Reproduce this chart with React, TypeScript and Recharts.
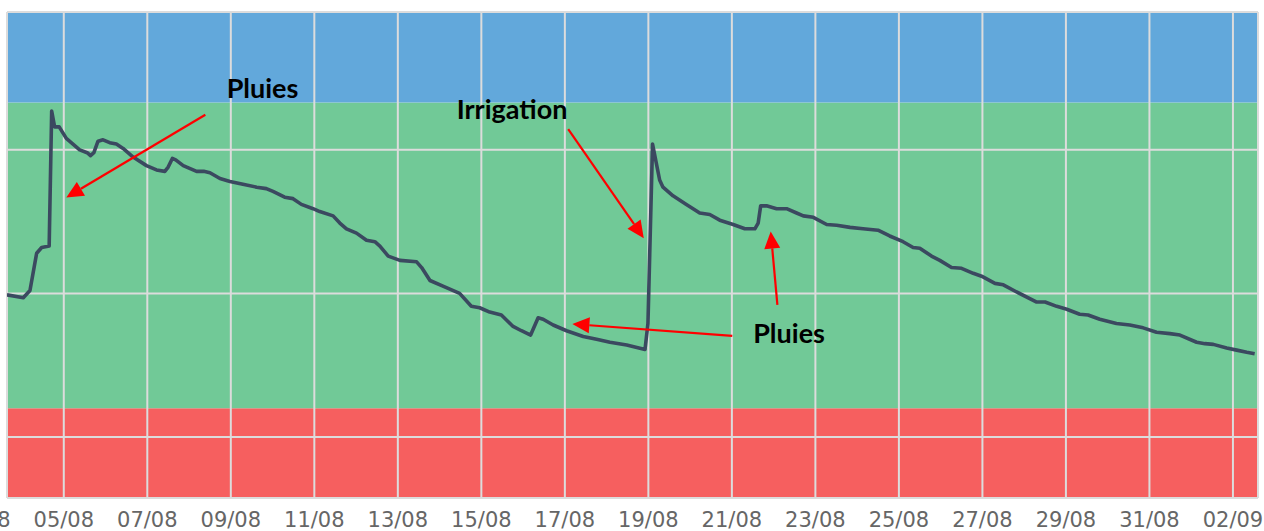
import { CartesianGrid, Line, LineChart, ReferenceArea, ReferenceDot, ReferenceLine, XAxis, YAxis } from "recharts";

// time in days of August (32 = 01/09)
const days = [
  3.64, 4.03, 4.19, 4.35, 4.47, 4.65, 4.71, 4.78, 4.89, 5.06, 5.38, 5.56, 5.64, 5.72, 5.82, 5.94,
  6.1, 6.26, 6.42, 6.66, 6.98, 7.22, 7.42, 7.5, 7.6, 7.68, 7.86, 8.18, 8.35, 8.5, 8.74, 8.98,
  9.29, 9.62, 9.85, 10.01, 10.29, 10.49, 10.69, 10.97, 11.13, 11.45, 11.61, 11.77, 12.01, 12.25,
  12.45, 12.57, 12.77, 13.05, 13.45, 13.57, 13.77, 14.08, 14.48, 14.76, 14.96, 15.2, 15.48, 15.76,
  15.96, 16.18, 16.36, 16.48, 16.72, 17.04, 17.44, 17.76, 18.08, 18.48, 18.92, 18.99, 19.1, 19.27,
  19.35, 19.59, 19.91, 20.23, 20.47, 20.71, 21.03, 21.31, 21.55, 21.63, 21.69, 21.83, 22.07, 22.31,
  22.55, 22.71, 22.95, 23.27, 23.51, 23.83, 24.14, 24.5, 24.78, 25.1, 25.34, 25.5, 25.78, 25.98,
  26.26, 26.5, 26.78, 26.98, 27.3, 27.5, 27.82, 28.3, 28.5, 28.78, 29.02, 29.33, 29.53, 29.81,
  30.21, 30.53, 30.85, 31.17, 31.49, 31.73, 32.13, 32.33, 32.53, 32.85, 33.09, 33.33, 33.52,
];
const values = [
  19.9, 19.7, 20.2, 22.8, 23.2, 23.3, 32.7, 31.6, 31.6, 30.8, 30.0, 29.8, 29.6, 29.8, 30.6, 30.7,
  30.5, 30.4, 30.1, 29.5, 28.9, 28.6, 28.5, 28.8, 29.4, 29.3, 28.9, 28.5, 28.5, 28.4, 28.0, 27.8,
  27.6, 27.4, 27.3, 27.1, 26.7, 26.6, 26.2, 25.9, 25.7, 25.4, 24.9, 24.5, 24.2, 23.7,
  23.6, 23.3, 22.6, 22.3, 22.2, 21.8, 20.9, 20.5, 20.0, 19.1, 19.0, 18.7, 18.5, 17.7,
  17.4, 17.1, 18.3, 18.2, 17.8, 17.4, 17.0, 16.8, 16.6, 16.4, 16.1, 17.9, 30.4, 27.9,
  27.4, 26.8, 26.2, 25.6, 25.5, 25.1, 24.8, 24.5, 24.5, 24.9, 26.1, 26.1, 25.9, 25.9,
  25.6, 25.4, 25.3, 24.8, 24.75, 24.6, 24.5, 24.4, 24.0, 23.6, 23.2, 23.15, 22.6, 22.3,
  21.8, 21.75, 21.4, 21.2, 20.7, 20.6, 20.1, 19.4, 19.4, 19.1, 18.9, 18.55, 18.5, 18.2,
  17.9, 17.8, 17.6, 17.3, 17.2, 17.1, 16.6, 16.5, 16.45, 16.2, 16.05, 15.9, 15.8,
];

const xTicks = [3, 5, 7, 9, 11, 13, 15, 17, 19, 21, 23, 25, 27, 29, 31, 33];
const yTicks = [10, 20, 30];

// zones: dry / ok / wet
const zones = [
  { from: 5.75, to: 12.0, color: "#f65f5f" },
  { from: 12.0, to: 33.3, color: "#71c997" },
  { from: 33.3, to: 39.6, color: "#62a8db" },
];

const labels = [
  { day: 8.9, value: 33.6, text: "Pluies" },
  { day: 14.41, value: 32.14, text: "Irrigation" },
  { day: 21.51, value: 16.57, text: "Pluies" },
];

const arrows = [
  { fromDay: 8.39, fromValue: 32.44, toDay: 5.06, toValue: 26.68 },
  { fromDay: 17.08, fromValue: 31.44, toDay: 18.89, toValue: 23.85 },
  { fromDay: 22.09, fromValue: 19.2, toDay: 21.93, toValue: 24.31 },
  { fromDay: 21.01, fromValue: 17.04, toDay: 17.18, toValue: 17.87 },
];

const data = days.map((d, i) => ({ day: d, value: values[i] }));

const fmtDate = (d: number) => {
  const month = d > 31 ? "09" : "08";
  const dd = d > 31 ? d - 31 : d;
  return `${String(dd).padStart(2, "0")}/${month}`;
};

function ArrowShape(props: any) {
  const { x1, y1, x2, y2 } = props;
  if ([x1, y1, x2, y2].some((v) => typeof v !== "number")) return <g />;
  const ang = Math.atan2(y2 - y1, x2 - x1);
  const len = 17;
  const half = 8;
  const bx = x2 - len * Math.cos(ang);
  const by = y2 - len * Math.sin(ang);
  const px = -Math.sin(ang) * half;
  const py = Math.cos(ang) * half;
  return (
    <g>
      <line x1={x1} y1={y1} x2={bx} y2={by} stroke="#ff0000" strokeWidth={2.2} />
      <polygon points={`${x2},${y2} ${bx + px},${by + py} ${bx - px},${by - py}`} fill="#ff0000" />
    </g>
  );
}

export default function App() {
  return (
    <div style={{ position: "absolute", left: -40, top: 0 }}>
      <LineChart width={1304} height={531} data={data} margin={{ top: 12, right: 6, bottom: 0, left: 47 }}>
        {zones.map((z) => (
          <ReferenceArea
            key={z.color}
            y1={z.from}
            y2={z.to}
            fill={z.color}
            fillOpacity={1}
            stroke="none"
            ifOverflow="visible"
            zIndex={-200}
          />
        ))}
        <CartesianGrid stroke="#dcdcdc" strokeWidth={2} />
        <XAxis
          dataKey="day"
          type="number"
          domain={[3.64, 33.6]}
          allowDataOverflow
          ticks={xTicks}
          interval={0}
          tickFormatter={fmtDate}
          axisLine={false}
          tickLine={false}
          tickSize={6}
          tickMargin={8}
          height={33}
          tick={{ fill: "#666666", fontSize: 21, fontFamily: "DejaVu Sans" }}
        />
        <YAxis type="number" domain={[5.75, 39.6]} allowDataOverflow ticks={yTicks} hide />
        <Line
          type="linear"
          dataKey="value"
          stroke="#3b4960"
          strokeWidth={3.6}
          strokeLinejoin="round"
          dot={false}
          activeDot={false}
          isAnimationActive={false}
        />
        {arrows.map((a, i) => (
          <ReferenceLine
            key={i}
            segment={[
              { x: a.fromDay, y: a.fromValue },
              { x: a.toDay, y: a.toValue },
            ]}
            shape={ArrowShape}
          />
        ))}
        {labels.map((l, i) => (
          <ReferenceDot
            key={i}
            x={l.day}
            y={l.value}
            r={0}
            shape={(p: any) => (
              <text x={p.cx} y={p.cy} fill="#000" fontFamily="Lato" fontWeight={700} fontSize={27}>
                {l.text}
              </text>
            )}
          />
        ))}
      </LineChart>
    </div>
  );
}
